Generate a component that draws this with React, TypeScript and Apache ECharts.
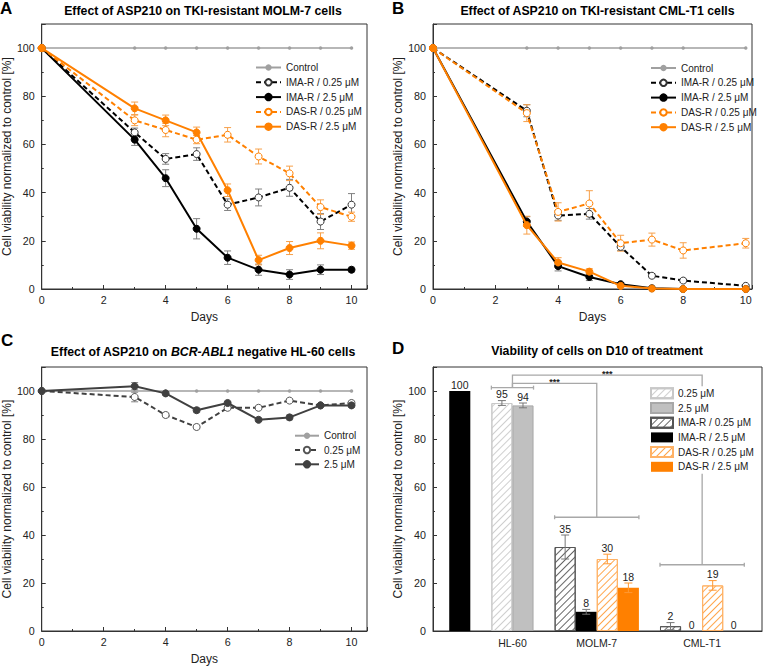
import React, { useEffect, useRef } from 'react';
import * as echarts from 'echarts';

// ---------- data ----------
const daysA = [0, 3, 4, 5, 6, 7, 8, 9, 10];
const controlA = [100, 100, 100, 100, 100, 100, 100, 100, 100];
const imaLowA = [100, 65, 54, 56, 35, 38, 42, 28, 35];
const imaLowAErr = [0, 1.8, 2.2, 2.6, 2.4, 3.5, 3.5, 3.3, 4.6];
const imaHighA = [100, 62, 46, 25, 13, 8, 6, 8, 8];
const imaHighAErr = [0, 2.4, 3.5, 4.2, 2.8, 2.3, 2, 2, 1];
const dasLowA = [100, 70, 66, 62, 64, 55, 48, 34, 30];
const dasLowAErr = [0, 2.2, 2.8, 1.7, 3, 3.1, 3, 3, 1.9];
const dasHighA = [100, 75, 70, 65, 41, 12, 17, 20, 18];
const dasHighAErr = [0, 2.6, 2.2, 2.2, 2.6, 2, 2.7, 3.3, 1.5];

const daysB = [0, 3, 4, 5, 6, 7, 8, 10];
const controlB = [100, 100, 100, 100, 100, 100, 100, 100];
const imaLowB = [100, 74, 30.5, 31.2, 17.5, 5.5, 3.5, 1.3];
const imaLowBErr = [0, 2.5, 2, 2.2, 1.5, 0.8, 0.7, 0.5];
const imaHighB = [100, 28, 9.5, 5, 2, 0.3, 0, 0];
const imaHighBErr = [0, 2, 2, 1.5, 0.7, 0, 0, 0];
const dasLowB = [100, 73, 32, 35.5, 19, 20.5, 16, 19];
const dasLowBErr = [0, 3.5, 3.8, 5.3, 3.3, 2.7, 3.2, 2];
const dasHighB = [100, 26.5, 11, 7.2, 1.3, 0.2, 0, 0];
const dasHighBErr = [0, 3.7, 2, 1.2, 0.5, 0, 0, 0];

const daysC = [0, 3, 4, 5, 6, 7, 8, 9, 10];
const controlC = [100, 100, 100, 100, 100, 100, 100, 100, 100];
const lowC = [100, 97.5, 90, 85, 93, 93, 96, 94, 95];
const lowCErr = [0, 2, 0.8, 0.8, 0.8, 0.8, 0.8, 0.5, 0.8];
const highC = [100, 102, 99, 92, 95, 88, 89, 94, 94];
const highCErr = [0, 1.5, 0.8, 1, 0.8, 0.8, 1, 0.5, 0.8];

const dGroups = ['HL-60', 'MOLM-7', 'CML-T1'];
const untreatedD = [100];
const hl60Low = [95];
const hl60LowErr = [1];
const hl60High = [94];
const hl60HighErr = [1];
const imaLowD = [35, 2]; // MOLM-7, CML-T1
const imaLowDErr = [5, 1.5];
const imaHighD = [8, 0];
const imaHighDErr = [1, 0];
const dasLowD = [30, 19];
const dasLowDErr = [2, 2];
const dasHighD = [18, 0];
const dasHighDErr = [2, 0];
// significance brackets: [from, to, level]
const bracketSpans = [[1.5, 3.5, 101.4], [4.5, 8.5, 47.4], [9.5, 13.5, 27.6]];
const linkLines = [[2.5, 101.4, 103.2, 6.5, 47.4], [2.5, 101.4, 106.6, 11.5, 27.6]];
const sigLabels = ['***', '***'];

// ---------- helpers ----------
const FONT = '"Liberation Sans", Arial, Helvetica, sans-serif';
const ORANGE = '#ff8000';
const AX = '#333';

function lineSeries(idx: number, name: string, xs: number[], ys: number[], o: any) {
  return {
    type: 'line', name, xAxisIndex: idx, yAxisIndex: idx,
    data: xs.map((x, i) => [x, ys[i]]),
    symbol: 'circle', symbolSize: o.size, showSymbol: true,
    lineStyle: { color: o.color, width: o.width, type: o.dashed ? [5, 3] : 'solid' },
    itemStyle: { color: o.fill ?? o.color, borderColor: o.border ?? o.color, borderWidth: o.bw ?? 1 },
    z: o.z ?? 3, silent: true,
  };
}

function errSeries(idx: number, xs: number[], ys: number[], es: number[], color: string) {
  return {
    type: 'custom', xAxisIndex: idx, yAxisIndex: idx, z: 2, silent: true,
    data: xs.map((x, i) => [x, ys[i], es[i]]),
    encode: { x: 0, y: 1 },
    renderItem: (_p: any, api: any) => {
      const x = api.value(0), y = api.value(1), e = api.value(2);
      if (!e) return { type: 'group', children: [] };
      const t = api.coord([x, y + e]);
      const b = api.coord([x, y - e]);
      const w = 3.5;
      const st = { stroke: color, lineWidth: 1 };
      return {
        type: 'group', children: [
          { type: 'line', shape: { x1: t[0], y1: t[1], x2: b[0], y2: b[1] }, style: st },
          { type: 'line', shape: { x1: t[0] - w, y1: t[1], x2: t[0] + w, y2: t[1] }, style: st },
          { type: 'line', shape: { x1: b[0] - w, y1: b[1], x2: b[0] + w, y2: b[1] }, style: st },
        ],
      };
    },
  };
}

function barSeries(name: string, xs: number[], ys: number[], style: any) {
  return {
    type: 'bar', name, xAxisIndex: 3, yAxisIndex: 3,
    data: xs.map((x, i) => [x, ys[i]]),
    barWidth: '100%', barGap: '-100%',
    itemStyle: style, silent: true, z: 2,
  };
}

function barErrSeries(xs: number[], ys: number[], es: number[], color: string) {
  return {
    type: 'custom', xAxisIndex: 3, yAxisIndex: 3, z: 4, silent: true, clip: false,
    data: xs.map((x, i) => [x, ys[i], es[i]]),
    encode: { x: 0, y: 1 },
    renderItem: (_p: any, api: any) => {
      const x = api.value(0), y = api.value(1), e = api.value(2);
      const t = api.coord([x, y + e]);
      const b = api.coord([x, y - e]);
      const w = 4;
      const st = { stroke: color, lineWidth: 1 };
      const children: any[] = [];
      if (e > 0) {
        children.push(
          { type: 'line', shape: { x1: t[0], y1: t[1], x2: b[0], y2: b[1] }, style: st },
          { type: 'line', shape: { x1: t[0] - w, y1: t[1], x2: t[0] + w, y2: t[1] }, style: st },
          { type: 'line', shape: { x1: b[0] - w, y1: b[1], x2: b[0] + w, y2: b[1] }, style: st },
        );
      }
      children.push({
        type: 'text', x: t[0], y: t[1] - 1,
        style: { text: String(y), fill: '#222', font: `10.5px ${FONT}`, align: 'center', verticalAlign: 'bottom' },
      });
      return { type: 'group', children };
    },
  };
}

const hatch = (color: string) => ({
  symbol: 'rect', symbolSize: 1, color,
  dashArrayX: [1, 0], dashArrayY: [0.8, 3.2], rotation: -Math.PI / 4,
});

const axisCommon = {
  type: 'value',
  axisLine: { show: true, onZero: false, lineStyle: { color: AX, width: 1 } },
  axisTick: { show: true, inside: true, length: 4, lineStyle: { color: AX } },
  minorTick: { show: true, splitNumber: 2, length: 2, lineStyle: { color: AX } },
  splitLine: { show: false },
  minorSplitLine: { show: false },
  nameTextStyle: { fontSize: 12, color: '#222', fontFamily: FONT },
};
const labelStyle = { fontSize: 10.7, color: '#222', fontFamily: FONT };

function xDays(gridIndex: number, max: number) {
  return {
    ...axisCommon, gridIndex, min: 0, max, interval: 2,
    axisLabel: { ...labelStyle, margin: 5, showMaxLabel: false },
    name: 'Days', nameLocation: 'middle', nameGap: 22,
  };
}
function yViab(gridIndex: number, gap: number) {
  return {
    ...axisCommon, gridIndex, min: 0, max: 110, interval: 20,
    axisLabel: { ...labelStyle, margin: 7, showMaxLabel: false },
    name: 'Cell viability normalized to control [%]', nameLocation: 'middle', nameGap: gap,
  };
}

function legendOf(names: string[], left: number, top: number, extra: any = {}) {
  return {
    data: names, left, top, orient: 'vertical', itemWidth: 25, itemHeight: 8, itemGap: 2.8, itemTextGap: 3,
    formatter: (n: string) => n.slice(2), selectedMode: false, padding: 0,
    textStyle: { fontSize: 10, color: '#222', lineHeight: 12, fontFamily: FONT },
    ...extra,
  };
}

// layout of bar slots in panel D (one slot per bar)
const groupStart = [2, 5, 10];
const groupCenters = [2.5, 6.5, 11.5];

const gray = '#a0a0a0';
const dark = '#404040';

const names = ['Control', 'IMA-R / 0.25 μM', 'IMA-R / 2.5 μM', 'DAS-R / 0.25 μM', 'DAS-R / 2.5 μM'];
const cNames = ['Control', '0.25 μM', '2.5 μM'];
const dNames = ['0.25 μM', '2.5 μM', 'IMA-R / 0.25 μM', 'IMA-R / 2.5 μM', 'DAS-R / 0.25 μM', 'DAS-R / 2.5 μM'];

function panelTimeSeries(idx: number, p: string, xs: number[], ctrl: number[], il: number[], ile: number[], ih: number[], ihe: number[], dl: number[], dle: number[], dh: number[], dhe: number[]) {
  return [
    lineSeries(idx, p + names[0], xs, ctrl, { size: 3.5, color: gray, width: 1.5, bw: 0, z: 2 }),
    errSeries(idx, xs, il, ile, '#808080'),
    errSeries(idx, xs, ih, ihe, '#808080'),
    errSeries(idx, xs, dl, dle, '#f7a04a'),
    errSeries(idx, xs, dh, dhe, '#f7a04a'),
    lineSeries(idx, p + names[1], xs, il, { size: 7, color: '#000', fill: '#fff', border: '#333', width: 2, dashed: true }),
    lineSeries(idx, p + names[2], xs, ih, { size: 7, color: '#000', width: 2 }),
    lineSeries(idx, p + names[3], xs, dl, { size: 7, color: ORANGE, fill: '#fff', border: ORANGE, width: 2, dashed: true, z: 4 }),
    lineSeries(idx, p + names[4], xs, dh, { size: 7, color: ORANGE, width: 2, z: 5 }),
  ];
}

const hl60X = [groupStart[0], groupStart[0] + 1];
const molmCmlX = (k: number) => [groupStart[1] + k, groupStart[2] + k];

const option: any = {
  animation: false,
  textStyle: { fontFamily: FONT },
  grid: [
    { left: 39, top: 24, width: 328, height: 265, show: true, borderColor: AX, borderWidth: 1 },
    { left: 433, top: 24, width: 319, height: 265, show: true, borderColor: AX, borderWidth: 1 },
    { left: 39, top: 367, width: 328, height: 264, show: true, borderColor: AX, borderWidth: 1 },
    { left: 433, top: 367, width: 329, height: 264, show: true, borderColor: AX, borderWidth: 1 },
  ],
  xAxis: [
    xDays(0, 10.5),
    xDays(1, 10.2),
    xDays(2, 10.5),
    {
      ...axisCommon, gridIndex: 3, min: -1.27, max: 14.34,
      axisTick: { show: false }, minorTick: { show: false },
      axisLabel: {
        ...labelStyle, fontSize: 10.5, margin: 6,
        customValues: groupCenters,
        formatter: (v: number) => {
          const i = groupCenters.findIndex((c) => Math.abs(c - v) < 1e-6);
          return i >= 0 ? dGroups[i] : '';
        },
      },
    },
  ],
  yAxis: [yViab(0, 28), yViab(1, 26), yViab(2, 28), yViab(3, 26)],
  legend: [
    legendOf(names.map((n) => 'A:' + n), 255, 61.5),
    legendOf(names.map((n) => 'B:' + n), 650, 62),
    legendOf(cNames.map((n) => 'C:' + n), 294, 429.7, { itemWidth: 24, itemGap: 2.3 }),
    legendOf(dNames.map((n) => 'D:' + n), 649, 386.3, {
      itemWidth: 22, itemHeight: 10, itemGap: 2.7, icon: 'rect', backgroundColor: '#fff', padding: 1, z: 6,
    }),
  ],
  series: [
    ...panelTimeSeries(0, 'A:', daysA, controlA, imaLowA, imaLowAErr, imaHighA, imaHighAErr, dasLowA, dasLowAErr, dasHighA, dasHighAErr),
    ...panelTimeSeries(1, 'B:', daysB, controlB, imaLowB, imaLowBErr, imaHighB, imaHighBErr, dasLowB, dasLowBErr, dasHighB, dasHighBErr),
    lineSeries(2, 'C:' + cNames[0], daysC, controlC, { size: 3.5, color: gray, width: 1.5, bw: 0, z: 2 }),
    errSeries(2, daysC, lowC, lowCErr, '#808080'),
    errSeries(2, daysC, highC, highCErr, '#808080'),
    lineSeries(2, 'C:' + cNames[1], daysC, lowC, { size: 7, color: dark, fill: '#fff', border: '#555', width: 2, dashed: true }),
    lineSeries(2, 'C:' + cNames[2], daysC, highC, { size: 7, color: dark, width: 2 }),
    // panel D bars
    barSeries('D:Untreated', [0], untreatedD, { color: '#000' }),
    barSeries('D:' + dNames[0], [hl60X[0]], hl60Low, { color: '#fff', borderColor: '#c8c8c8', borderWidth: 1, decal: hatch('#cfcfcf') }),
    barSeries('D:' + dNames[1], [hl60X[1]], hl60High, { color: '#c0c0c0', borderColor: '#a8a8a8', borderWidth: 1 }),
    barSeries('D:' + dNames[2], molmCmlX(0), imaLowD, { color: '#fff', borderColor: '#555', borderWidth: 1, decal: hatch('#666') }),
    barSeries('D:' + dNames[3], molmCmlX(1), imaHighD, { color: '#000' }),
    barSeries('D:' + dNames[4], molmCmlX(2), dasLowD, { color: '#fff', borderColor: '#ffb266', borderWidth: 1, decal: hatch('#ffa64d') }),
    barSeries('D:' + dNames[5], molmCmlX(3), dasHighD, { color: ORANGE }),
    barErrSeries([0], untreatedD, [0], '#777'),
    barErrSeries([hl60X[0]], hl60Low, hl60LowErr, '#777'),
    barErrSeries([hl60X[1]], hl60High, hl60HighErr, '#777'),
    barErrSeries(molmCmlX(0), imaLowD, imaLowDErr, '#777'),
    barErrSeries(molmCmlX(1), imaHighD, imaHighDErr, '#777'),
    barErrSeries(molmCmlX(2), dasLowD, dasLowDErr, '#ff9933'),
    barErrSeries(molmCmlX(3), dasHighD, dasHighDErr, '#ff9933'),
    {
      type: 'custom', xAxisIndex: 3, yAxisIndex: 3, z: 3, silent: true, clip: false,
      data: bracketSpans,
      encode: { x: [0, 1], y: 2 },
      renderItem: (_p: any, api: any) => {
        const a = api.coord([api.value(0), api.value(2)]);
        const b = api.coord([api.value(1), api.value(2)]);
        const st = { stroke: '#a8a8a8', lineWidth: 1.3 };
        return {
          type: 'group', children: [
            { type: 'line', shape: { x1: a[0], y1: a[1], x2: b[0], y2: b[1] }, style: st },
            { type: 'line', shape: { x1: a[0], y1: a[1] - 2, x2: a[0], y2: a[1] + 2 }, style: st },
            { type: 'line', shape: { x1: b[0], y1: b[1] - 2, x2: b[0], y2: b[1] + 2 }, style: st },
          ],
        };
      },
    },
    {
      type: 'custom', xAxisIndex: 3, yAxisIndex: 3, z: 3, silent: true, clip: false,
      data: linkLines,
      encode: { x: [0, 3], y: [1, 2, 4] },
      renderItem: (p: any, api: any) => {
        const x1 = api.value(0), y1 = api.value(1), yt = api.value(2), x2 = api.value(3), y2 = api.value(4);
        const pts = [api.coord([x1, y1]), api.coord([x1, yt]), api.coord([x2, yt]), api.coord([x2, y2])];
        const mid = api.coord([(x1 + x2) / 2, yt]);
        return {
          type: 'group', children: [
            { type: 'polyline', shape: { points: pts }, style: { stroke: '#a8a8a8', lineWidth: 1.3, fill: 'none' } },
            {
              type: 'text', x: mid[0], y: mid[1] - 1,
              style: { text: sigLabels[p.dataIndex], fill: '#222', font: `bold 9px ${FONT}`, align: 'center', verticalAlign: 'middle' },
            },
          ],
        };
      },
    },
  ],
  graphic: [
    { type: 'text', x: 0, y: 0, style: { text: 'A', font: `bold 17px ${FONT}`, fill: '#000', verticalAlign: 'top' } },
    { type: 'text', x: 392, y: 0, style: { text: 'B', font: `bold 17px ${FONT}`, fill: '#000', verticalAlign: 'top' } },
    { type: 'text', x: 1, y: 332, style: { text: 'C', font: `bold 17px ${FONT}`, fill: '#000', verticalAlign: 'top' } },
    { type: 'text', x: 392, y: 340, style: { text: 'D', font: `bold 17px ${FONT}`, fill: '#000', verticalAlign: 'top' } },
    { type: 'text', x: 203, y: 10.5, style: { text: 'Effect of ASP210 on TKI-resistant MOLM-7 cells', font: `bold 12.3px ${FONT}`, fill: '#000', align: 'center', verticalAlign: 'middle' } },
    { type: 'text', x: 597.5, y: 10.8, style: { text: 'Effect of ASP210 on TKI-resistant CML-T1 cells', font: `bold 12.3px ${FONT}`, fill: '#000', align: 'center', verticalAlign: 'middle' } },
    {
      type: 'text', x: 203, y: 351.7,
      style: {
        text: '{n|Effect of ASP210 on }{i|BCR-ABL1}{n| negative HL-60 cells}',
        align: 'center', verticalAlign: 'middle', fill: '#000',
        rich: {
          n: { fontFamily: FONT, fontWeight: 'bold', fontSize: 12.3, fill: '#000' },
          i: { fontFamily: FONT, fontWeight: 'bold', fontStyle: 'italic', fontSize: 12.3, fill: '#000' },
        },
      },
    },
    { type: 'text', x: 597, y: 351, style: { text: 'Viability of cells on D10 of treatment', font: `bold 12.3px ${FONT}`, fill: '#000', align: 'center', verticalAlign: 'middle' } },
  ],
};

export default function App() {
  const ref = useRef<HTMLDivElement>(null);
  useEffect(() => {
    const chart = echarts.init(ref.current!, null, { renderer: 'svg' });
    chart.setOption(option);
    return () => chart.dispose();
  }, []);
  return <div ref={ref} style={{ position: 'absolute', left: 0, top: 0, width: 763, height: 669, background: '#fff' }} />;
}
